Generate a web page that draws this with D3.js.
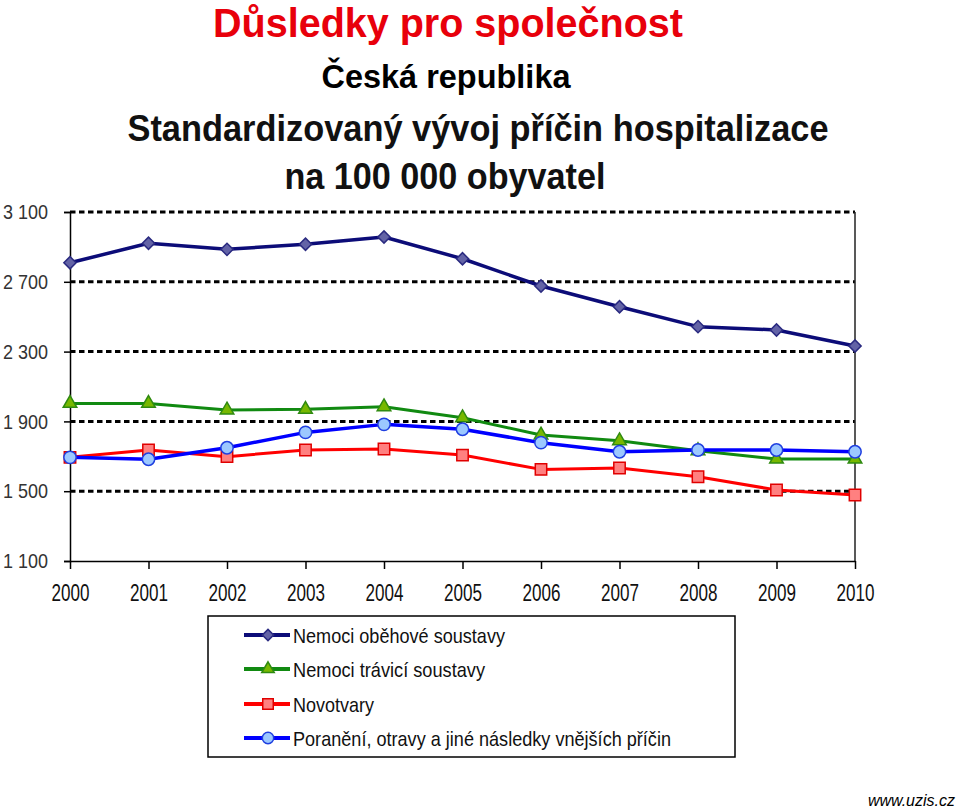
<!DOCTYPE html>
<html><head><meta charset="utf-8">
<script src="https://cdn.jsdelivr.net/npm/d3@7"></script>
<style>body{margin:0;background:#fff;} svg{display:block;font-family:Arial,"Liberation Sans",sans-serif;}</style>
</head><body>
<script>
const years = [2000,2001,2002,2003,2004,2005,2006,2007,2008,2009,2010];
const seriesNames = ["Nemoci oběhové soustavy","Nemoci trávicí soustavy","Novotvary","Poranění, otravy a jiné následky vnějších příčin"];
const circulatory = [2809,2921,2886,2915,2957,2832,2676,2557,2443,2424,2332];
const digestive   = [2003,2003,1965,1969,1984,1921,1822,1789,1732,1684,1684];
const neoplasms   = [1694,1736,1698,1736,1742,1707,1625,1633,1583,1507,1478];
const injuries    = [1694,1683,1749,1837,1883,1855,1778,1726,1736,1736,1726];
const yTicks = [1100,1500,1900,2300,2700,3100];
const yTickLabels = ["1 100","1 500","1 900","2 300","2 700","3 100"];

const W=959,H=808;
const svg=d3.select("body").append("svg").attr("width",W).attr("height",H);
const x=d3.scaleLinear().domain([2000,2010]).range([70,855]);
const y=d3.scaleLinear().domain([1100,3100]).range([561,212]);

// titles
svg.append("text").attr("x",448).attr("y",37).attr("text-anchor","middle")
  .attr("font-size",40).attr("font-weight","bold").attr("fill","#e8000b")
  .attr("textLength",470).attr("lengthAdjust","spacingAndGlyphs").text("Důsledky pro společnost");
svg.append("text").attr("x",446).attr("y",88).attr("text-anchor","middle")
  .attr("font-size",33).attr("font-weight","bold").attr("fill","#000")
  .attr("textLength",249).attr("lengthAdjust","spacingAndGlyphs").text("Česká republika");
svg.append("text").attr("x",478).attr("y",141).attr("text-anchor","middle")
  .attr("font-size",37).attr("font-weight","bold").attr("fill","#111")
  .attr("textLength",701).attr("lengthAdjust","spacingAndGlyphs").text("Standardizovaný vývoj příčin hospitalizace");
svg.append("text").attr("x",445).attr("y",189).attr("text-anchor","middle")
  .attr("font-size",37).attr("font-weight","bold").attr("fill","#111")
  .attr("textLength",321).attr("lengthAdjust","spacingAndGlyphs").text("na 100 000 obyvatel");

// gridlines
svg.append("g").selectAll("line").data(yTicks.filter(v=>v>1100)).join("line")
  .attr("x1",70).attr("x2",855).attr("y1",d=>y(d)).attr("y2",d=>y(d))
  .attr("stroke","#000").attr("stroke-width",3).attr("stroke-dasharray","5.5,3.5");

// right border
svg.append("line").attr("x1",855).attr("x2",855).attr("y1",212).attr("y2",561).attr("stroke","#222").attr("stroke-width",1.5);

// y axis
const yAxis=d3.axisLeft(y).tickValues(yTicks).tickSize(6).tickFormat((d,i)=>yTickLabels[i]);
const gy=svg.append("g").attr("transform","translate(70,0)").call(yAxis);
gy.select(".domain").attr("stroke","#000").attr("stroke-width",1.5);
gy.selectAll(".tick line").attr("stroke","#000").attr("stroke-width",1.5);
gy.selectAll(".tick text").attr("x",-22).attr("font-size",21).attr("fill","#333")
  .attr("font-family","Arial, 'Liberation Sans', sans-serif").attr("textLength",45).attr("lengthAdjust","spacingAndGlyphs");

// x axis
const xAxis=d3.axisBottom(x).tickValues(years).tickSize(8).tickSizeOuter(0).tickFormat(d3.format("d"));
const gx=svg.append("g").attr("transform","translate(0,561)").call(xAxis);
gx.select(".domain").attr("stroke","#000").attr("stroke-width",1.5);
gx.selectAll(".tick line").attr("stroke","#000").attr("stroke-width",1.5);
gx.selectAll(".tick text").attr("y",24).attr("font-size",23).attr("fill","#111")
  .attr("font-family","Arial, 'Liberation Sans', sans-serif").attr("textLength",38).attr("lengthAdjust","spacingAndGlyphs");

// series
const series=[
  {name:seriesNames[0],values:circulatory,line:"#0c0c78",fill:"#6363a6",stroke:"#2a2a80",sym:d3.symbolSquare,size:75,rot:45,w:3.5},
  {name:seriesNames[1],values:digestive,line:"#118a11",fill:"#77b800",stroke:"#2f8a10",sym:d3.symbolTriangle,size:80,rot:0,w:3},
  {name:seriesNames[2],values:neoplasms,line:"#ff0000",fill:"#ff8080",stroke:"#e00000",sym:d3.symbolSquare,size:130,rot:0,w:3},
  {name:seriesNames[3],values:injuries,line:"#0000ff",fill:"#9cc8ff",stroke:"#1f3fe0",sym:d3.symbolCircle,size:120,rot:0,w:3.5}
];
const line=d3.line().x((d,i)=>x(years[i])).y(d=>y(d));
series.forEach(s=>{
  svg.append("path").datum(s.values).attr("d",line).attr("fill","none")
    .attr("stroke",s.line).attr("stroke-width",s.w).attr("stroke-linejoin","round");
});
series.forEach(s=>{
  svg.append("g").selectAll("path").data(s.values).join("path")
    .attr("transform",(d,i)=>`translate(${x(years[i])},${y(d)}) rotate(${s.rot})`)
    .attr("d",d3.symbol().type(s.sym).size(s.size)())
    .attr("fill",s.fill).attr("stroke",s.stroke).attr("stroke-width",1.5);
});

// legend
const leg=svg.append("g");
leg.append("rect").attr("x",208).attr("y",616).attr("width",527).attr("height",141)
  .attr("fill","#fff").attr("stroke","#000").attr("stroke-width",1.5);
const legTextW=[212,192,81,378];
const legY=[635,669,704,738];
series.forEach((s,i)=>{
  const g=leg.append("g").attr("transform",`translate(0,${legY[i]})`);
  g.append("line").attr("x1",244).attr("x2",290).attr("y1",0).attr("y2",0).attr("stroke",s.line).attr("stroke-width",4);
  g.append("path").attr("transform",`translate(268,0) rotate(${s.rot})`).attr("d",d3.symbol().type(s.sym).size(s.size*0.85)())
    .attr("fill",s.fill).attr("stroke",s.stroke).attr("stroke-width",1.5);
  g.append("text").attr("x",293).attr("y",7.5).attr("font-size",21).attr("fill","#111")
    .attr("textLength",legTextW[i]).attr("lengthAdjust","spacingAndGlyphs").text(s.name);
});

svg.append("text").attr("x",955).attr("y",806).attr("text-anchor","end").attr("font-size",16)
  .attr("font-style","italic").attr("fill","#000").text("www.uzis.cz");
</script>
</body></html>
